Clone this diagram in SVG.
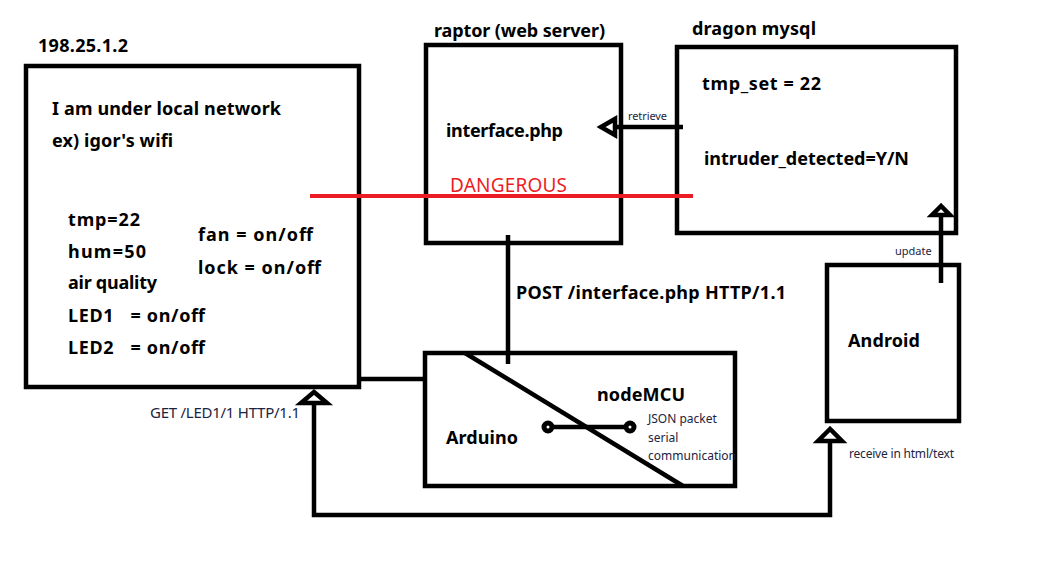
<svg xmlns="http://www.w3.org/2000/svg" width="1041" height="581" viewBox="0 0 1041 581">
<style>
.box{fill:none;stroke:#000;stroke-width:4.5}
.ln{fill:none;stroke:#000;stroke-width:4.5}
.ah{fill:#fff;stroke:#000;stroke-width:4.5;stroke-linejoin:miter}
.b{font-family:"Noto Sans","Liberation Sans",sans-serif;font-weight:bold;font-size:18px;fill:#000}
.r{font-family:"Noto Sans","Liberation Sans",sans-serif;font-size:19px;fill:#ed1c24}
.s{font-family:"Noto Sans","Liberation Sans",sans-serif;font-size:12px;fill:#1c2440}
</style>
<rect width="1041" height="581" fill="#fff"/>
<g id="local">
<rect class="box" x="26" y="66" width="333" height="321"/>
<text class="b" x="38" y="52" textLength="90" lengthAdjust="spacing">198.25.1.2</text>
<text class="b" x="52" y="115" textLength="229" lengthAdjust="spacing">I am under local network</text>
<text class="b" x="52" y="147" textLength="121" lengthAdjust="spacing">ex) igor's wifi</text>
<text class="b" x="68" y="226" textLength="72" lengthAdjust="spacing">tmp=22</text>
<text class="b" x="68" y="258" textLength="78" lengthAdjust="spacing">hum=50</text>
<text class="b" x="68" y="289" textLength="89" lengthAdjust="spacing">air quality</text>
<text class="b" x="68" y="322" xml:space="preserve" textLength="137" lengthAdjust="spacing">LED1   = on/off</text>
<text class="b" x="68" y="354" xml:space="preserve" textLength="137" lengthAdjust="spacing">LED2   = on/off</text>
<text class="b" x="198" y="241" textLength="115" lengthAdjust="spacing">fan = on/off</text>
<text class="b" x="198" y="274" textLength="123" lengthAdjust="spacing">lock = on/off</text>
</g>
<g id="raptor">
<rect class="box" x="426" y="45" width="195" height="198"/>
<text class="b" x="434" y="37" textLength="171" lengthAdjust="spacing">raptor (web server)</text>
<text class="b" x="446" y="137" textLength="117" lengthAdjust="spacing">interface.php</text>
</g>
<g id="dragon">
<rect class="box" x="677" y="47" width="279" height="186"/>
<text class="b" x="692" y="35" textLength="124" lengthAdjust="spacing">dragon mysql</text>
<text class="b" x="702" y="90" textLength="119" lengthAdjust="spacing">tmp_set = 22</text>
<text class="b" x="704" y="165" textLength="205" lengthAdjust="spacing">intruder_detected=Y/N</text>
</g>
<g id="android">
<rect class="box" x="827" y="265" width="132" height="156"/>
<text class="b" x="848" y="347" textLength="72" lengthAdjust="spacing">Android</text>
</g>
<g id="arduino">
<rect class="box" x="425" y="353" width="310" height="133"/>
<line class="ln" x1="465" y1="353" x2="683" y2="486"/>
<text class="b" x="446" y="444" textLength="72" lengthAdjust="spacing">Arduino</text>
<text class="b" x="597" y="401" textLength="88" lengthAdjust="spacing">nodeMCU</text>
<line class="ln" x1="548" y1="427" x2="630" y2="427"/>
<circle cx="548" cy="427" r="4" fill="#fff" stroke="#000" stroke-width="5"/>
<circle cx="630" cy="427" r="4" fill="#fff" stroke="#000" stroke-width="5"/>
<text class="s" x="648" y="423">JSON packet</text>
<text class="s" x="648" y="442">serial</text>
<text class="s" x="648" y="460">communication</text>
</g>
<g id="connectors">
<line x1="310" y1="196" x2="693" y2="196" stroke="#ed1c24" stroke-width="4"/>
<text class="r" x="450" y="192" textLength="117" lengthAdjust="spacing">DANGEROUS</text>
<line class="ln" x1="615" y1="127" x2="683" y2="127"/>
<polygon class="ah" points="601,127 615,119 615,135"/>
<text class="s" x="628" y="120" style="font-size:11px" textLength="39" lengthAdjust="spacing">retrieve</text>
<line class="ln" x1="941" y1="215" x2="941" y2="283"/>
<polygon class="ah" points="941,206 932,215 950,215"/>
<text class="s" x="895" y="255" style="font-size:11px">update</text>
<line class="ln" x1="508" y1="235" x2="508" y2="364"/>
<text class="b" x="516" y="299" textLength="270" lengthAdjust="spacing">POST /interface.php HTTP/1.1</text>
<line class="ln" x1="359" y1="379" x2="427" y2="379"/>
<polyline class="ln" points="314,403 314,515 830,515 830,441"/>
<polygon class="ah" points="314,392 301,403 327,403"/>
<polygon class="ah" points="830,429 818,441 842,441"/>
<text class="s" x="150" y="418" style="font-size:15px" textLength="150" lengthAdjust="spacing">GET /LED1/1 HTTP/1.1</text>
<text class="s" x="849" y="458" textLength="105" lengthAdjust="spacing">receive in html/text</text>
</g>
</svg>
